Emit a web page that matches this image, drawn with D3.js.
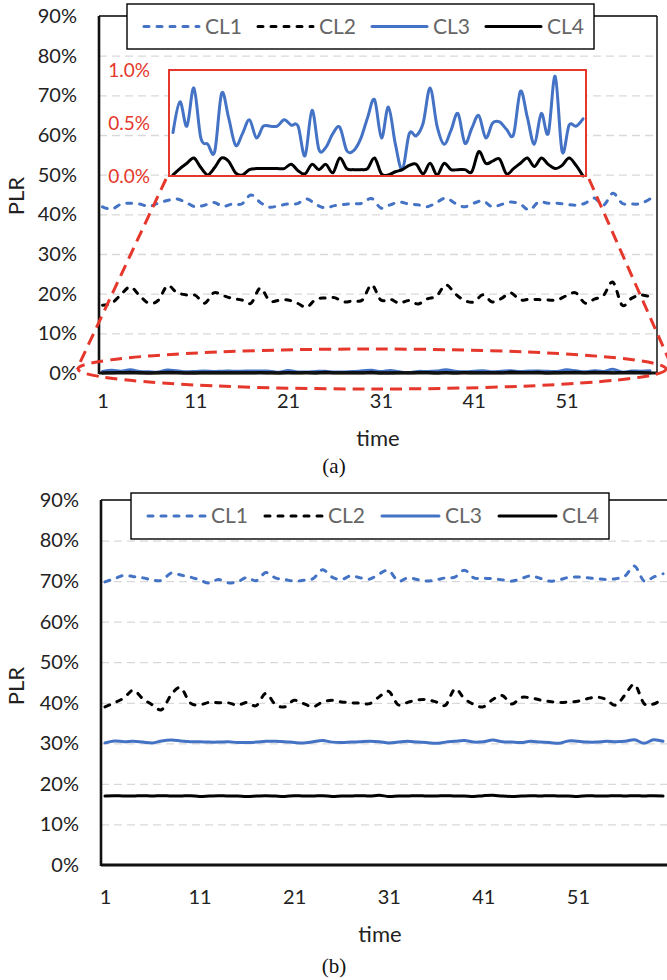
<!DOCTYPE html>
<html>
<head>
<meta charset="utf-8">
<script src="https://cdn.jsdelivr.net/npm/d3@7"></script>
<style>
  html, body { margin: 0; padding: 0; background: #fff; }
  svg { display: block; }
</style>
</head>
<body>
<svg id="fig" width="667" height="980"></svg>
<script>
// ---- data ----------------------------------------------------------
const timeSteps = d3.range(1, 61);
const xTickValues = [1, 11, 21, 31, 41, 51];
const yTickValues = [0, 10, 20, 30, 40, 50, 60, 70, 80, 90];
const insetTickValues = [0, 0.5, 1.0];
const seriesNames = ["CL1", "CL2", "CL3", "CL4"];

// panel (a), PLR in %
const a_CL1 = [41.9,41.3,42.6,42.8,42.6,42.0,42.8,43.5,43.9,43.0,
               41.9,42.3,43.0,42.0,42.6,42.6,44.9,43.0,41.8,42.2,
               42.6,42.7,43.9,42.5,41.6,42.2,42.5,42.7,42.8,44.0,
               41.6,42.4,43.1,42.6,42.4,41.9,43.0,44.1,42.8,41.9,
               42.8,43.4,41.9,42.5,43.1,42.6,41.1,43.1,42.8,42.8,
               42.5,42.3,42.8,44.1,42.3,45.3,42.8,42.6,42.7,43.9];
const a_CL2 = [17.1,17.6,19.8,21.7,19.5,17.6,18.3,22.0,20.3,19.7,
               19.6,17.6,20.2,19.5,18.8,18.4,17.6,21.4,18.2,18.3,
               18.4,17.6,16.6,18.6,18.9,19.0,17.9,18.2,18.4,22.2,
               18.4,18.6,17.6,18.3,17.4,18.7,19.4,22.2,20.0,18.3,
               17.9,19.7,17.9,18.8,20.2,18.4,18.6,18.5,18.4,18.4,
               19.5,20.2,17.6,18.6,19.6,22.9,17.1,18.8,19.7,19.2];
const a_CL3 = [0.41,0.70,0.47,0.83,0.36,0.30,0.23,0.78,0.55,0.29,
               0.40,0.53,0.36,0.47,0.47,0.47,0.53,0.48,0.47,0.19,
               0.62,0.25,0.27,0.40,0.46,0.24,0.24,0.35,0.55,0.72,
               0.36,0.65,0.30,0.06,0.40,0.38,0.50,0.83,0.47,0.30,
               0.43,0.59,0.31,0.45,0.57,0.36,0.50,0.51,0.44,0.39,
               0.80,0.55,0.30,0.59,0.40,0.94,0.23,0.48,0.47,0.54];
const a_CL4 = [0.01,0.07,0.12,0.17,0.08,0.01,0.08,0.17,0.14,0.03,
               0.01,0.06,0.07,0.07,0.07,0.07,0.07,0.11,0.05,0.02,
               0.11,0.06,0.11,0.03,0.17,0.07,0.06,0.06,0.07,0.17,
               0.02,0.01,0.04,0.06,0.10,0.11,0.02,0.12,0.01,0.12,
               0.06,0.06,0.06,0.04,0.23,0.12,0.14,0.16,0.02,0.07,
               0.12,0.17,0.09,0.17,0.11,0.07,0.10,0.17,0.10,0.00];

// panel (b), PLR in %
const b_CL1 = [69.8,70.6,71.4,71.1,70.8,70.3,70.2,72.0,71.5,71.0,
               70.3,69.5,70.4,69.6,69.8,70.9,70.1,72.1,70.8,70.4,
               70.0,70.2,70.6,72.8,71.0,70.4,71.3,70.8,70.5,71.8,
               72.6,70.0,70.8,70.4,70.0,70.3,70.8,71.0,72.7,70.8,
               70.7,70.6,70.3,70.0,70.6,71.3,70.7,70.0,70.3,70.9,
               71.0,70.8,70.6,70.4,70.6,71.3,73.7,70.0,71.0,71.8];
const b_CL2 = [39.0,40.0,41.2,43.1,41.0,39.5,38.3,42.0,43.7,40.0,
               39.5,40.1,40.0,40.0,39.4,40.1,39.3,42.3,39.6,39.0,
               40.6,39.8,39.0,40.2,40.6,40.2,40.0,39.9,39.8,41.5,
               42.8,39.5,40.1,40.7,40.8,40.2,39.4,43.4,41.0,39.6,
               39.0,40.8,41.8,39.7,41.3,41.2,40.7,40.3,40.1,40.2,
               40.4,41.0,41.4,40.8,39.4,42.0,44.5,39.8,39.7,41.0];
const b_CL3 = [30.1,30.6,30.4,30.5,30.3,30.1,30.6,30.8,30.6,30.4,
               30.4,30.3,30.3,30.4,30.2,30.2,30.3,30.5,30.5,30.4,
               30.2,30.1,30.4,30.7,30.3,30.2,30.3,30.4,30.5,30.4,
               30.1,30.3,30.5,30.3,30.2,30.0,30.3,30.5,30.7,30.3,
               30.4,30.8,30.4,30.3,30.2,30.5,30.3,30.2,30.0,30.6,
               30.5,30.3,30.3,30.5,30.4,30.5,30.9,30.0,30.9,30.5];
const b_CL4 = [17.0,17.1,17.0,17.0,17.1,17.0,17.1,17.0,17.0,17.1,
               16.9,17.0,17.1,17.0,17.0,16.9,17.0,17.1,17.0,16.9,
               17.1,17.0,17.0,17.1,16.9,17.0,17.0,17.1,17.0,17.2,
               16.9,17.0,17.0,17.1,17.0,17.0,17.1,17.0,17.0,16.9,
               17.1,17.2,17.0,16.9,17.0,17.1,17.0,17.1,17.0,17.0,
               16.9,17.1,17.0,17.0,17.1,17.0,17.1,17.0,17.1,17.0];

// ---- styling ---------------------------------------------------------
const FONT = "Lato, 'Open Sans', 'DejaVu Sans', sans-serif";
const BLUE = "#4472C4";
const RED = "#E5372B";
const seriesStyle = [
  { color: BLUE,   dash: "5,8" },
  { color: "#000", dash: "5,8" },
  { color: BLUE,   dash: null },
  { color: "#000", dash: null }
];

const svg = d3.select("#fig");

function styleLine(sel, s) {
  sel.attr("fill", "none")
     .attr("stroke", s.color)
     .attr("stroke-width", 3)
     .attr("stroke-linecap", "round")
     .attr("stroke-linejoin", "round")
     .attr("stroke-dasharray", s.dash);
}

function drawPanel(p) {
  const g = svg.append("g");
  const x = d3.scaleLinear().domain([1, 60]).range([p.x0, p.x1]);
  const y = d3.scaleLinear().domain([0, 90]).range([p.bottom, p.top]);

  // horizontal gridlines
  g.append("g")
    .attr("transform", `translate(${p.left},0)`)
    .call(d3.axisLeft(y).tickValues(yTickValues.slice(1, -1))
      .tickSize(-(p.right - p.left)).tickFormat(""))
    .call(a => a.select(".domain").remove())
    .call(a => a.selectAll(".tick line")
      .attr("stroke", "#d9d9d9").attr("stroke-width", 1.3)
      .attr("stroke-dasharray", "8,5"));

  // y tick labels
  g.append("g")
    .attr("transform", `translate(${p.yLabelX},0)`)
    .call(d3.axisLeft(y).tickValues(yTickValues).tickSize(0).tickPadding(0)
      .tickFormat(d => d + "%"))
    .attr("font-family", FONT).attr("font-size", 20)
    .call(a => a.select(".domain").remove())
    .call(a => a.selectAll("text").attr("fill", "#222"));

  // x tick labels
  g.append("g")
    .attr("transform", `translate(0,${p.xLabelY})`)
    .call(d3.axisBottom(x).tickValues(xTickValues).tickSize(0).tickPadding(0))
    .attr("font-family", FONT).attr("font-size", 20)
    .call(a => a.select(".domain").remove())
    .call(a => a.selectAll("text").attr("fill", "#222"));

  // series
  const line = d3.line().x((d, i) => x(timeSteps[i])).y(d => y(d))
    .curve(d3.curveCardinal);
  p.series.forEach((vals, k) => {
    g.append("path").datum(vals).attr("d", line)
      .call(styleLine, seriesStyle[k]);
  });

  // frame: thin top / right border, heavier axis lines
  g.append("line").attr("x1", p.left).attr("x2", p.right)
    .attr("y1", p.top).attr("y2", p.top)
    .attr("stroke", "#000").attr("stroke-width", 1.4);
  g.append("line").attr("x1", p.right).attr("x2", p.right)
    .attr("y1", p.top).attr("y2", p.bottom)
    .attr("stroke", "#000").attr("stroke-width", 1.4);
  g.append("line").attr("x1", p.left).attr("x2", p.left)
    .attr("y1", p.top).attr("y2", p.bottom + 1)
    .attr("stroke", "#111").attr("stroke-width", 2.6);
  g.append("line").attr("x1", p.left).attr("x2", p.right)
    .attr("y1", p.bottom).attr("y2", p.bottom)
    .attr("stroke", "#111").attr("stroke-width", 3);

  // axis titles
  g.append("text")
    .attr("transform", `translate(${p.yTitleX},${p.yTitleY}) rotate(-90)`)
    .attr("text-anchor", "middle").attr("font-family", FONT)
    .attr("font-size", 22).attr("fill", "#222").text("PLR");
  g.append("text")
    .attr("x", p.xTitleX).attr("y", p.xTitleY)
    .attr("text-anchor", "middle").attr("font-family", FONT)
    .attr("font-size", 22).attr("fill", "#222").text("time");
  g.append("text")
    .attr("x", p.capX).attr("y", p.capY)
    .attr("text-anchor", "middle")
    .attr("font-family", "'Liberation Serif', 'Times New Roman', serif")
    .attr("font-size", 21).attr("fill", "#111").text(p.caption);

  return { g, x, y };
}

function drawLegend(L) {
  const g = svg.append("g");
  g.append("rect").attr("x", L.x).attr("y", L.y)
    .attr("width", L.w).attr("height", L.h)
    .attr("fill", "#fff").attr("stroke", "#000").attr("stroke-width", 1.4);
  seriesNames.forEach((name, k) => {
    const x0 = L.itemX + k * L.step;
    g.append("line")
      .attr("x1", x0).attr("x2", x0 + L.lineLen)
      .attr("y1", L.y + L.h / 2).attr("y2", L.y + L.h / 2)
      .call(styleLine, seriesStyle[k]);
    g.append("text")
      .attr("x", x0 + L.lineLen + 6).attr("y", L.y + L.h / 2)
      .attr("dy", "0.35em").attr("font-family", FONT)
      .attr("font-size", 21).attr("fill", "#666").text(name);
  });
}

// ---- panel (a) ------------------------------------------------------
const pa = drawPanel({
  left: 99, right: 657, top: 16, bottom: 373,
  x0: 102.5, x1: 650,
  yLabelX: 77, xLabelY: 394,
  yTitleX: 24, yTitleY: 196,
  xTitleX: 378, xTitleY: 446,
  capX: 334, capY: 473, caption: "(a)",
  series: [a_CL1, a_CL2, a_CL3, a_CL4]
});

// zoomed view of CL3 / CL4 near 0 %
const inset = { left: 169, right: 586, top: 70, bottom: 176 };
const xi = d3.scaleLinear().domain([1, 60]).range([173, 583]);
const yi = d3.scaleLinear().domain([0, 1.0]).range([inset.bottom, inset.top]);
const gi = svg.append("g");
gi.append("rect").attr("x", inset.left).attr("y", inset.top)
  .attr("width", inset.right - inset.left).attr("height", inset.bottom - inset.top)
  .attr("fill", "#fff");
const lineInset = d3.line().x((d, i) => xi(timeSteps[i])).y(d => yi(d))
  .curve(d3.curveCardinal);
[a_CL3, a_CL4].forEach((vals, k) => {
  gi.append("path").datum(vals).attr("d", lineInset)
    .call(styleLine, seriesStyle[k + 2]);
});
gi.append("rect").attr("x", inset.left).attr("y", inset.top)
  .attr("width", inset.right - inset.left).attr("height", inset.bottom - inset.top)
  .attr("fill", "none").attr("stroke", RED).attr("stroke-width", 2);
gi.append("g")
  .attr("transform", "translate(150,0)")
  .call(d3.axisLeft(yi).tickValues(insetTickValues).tickSize(0).tickPadding(0)
    .tickFormat(d => d.toFixed(1) + "%"))
  .attr("font-family", FONT).attr("font-size", 19)
  .call(a => a.select(".domain").remove())
  .call(a => a.selectAll("text").attr("fill", RED));

// callout: ellipse round the near-zero lines, joined to the zoomed box
const gc = svg.append("g").attr("fill", "none").attr("stroke", RED)
  .attr("stroke-width", 3).attr("stroke-dasharray", "12,7");
gc.append("ellipse").attr("cx", 372).attr("cy", 369).attr("rx", 294).attr("ry", 20);
gc.append("line").attr("x1", 166).attr("y1", 179).attr("x2", 77).attr("y2", 369);
gc.append("line").attr("x1", 589).attr("y1", 179).attr("x2", 673).attr("y2", 369);

drawLegend({ x: 127, y: 4, w: 467, h: 45, itemX: 144, step: 114, lineLen: 55 });

// ---- panel (b) ------------------------------------------------------
drawPanel({
  left: 101, right: 668, top: 500, bottom: 865,
  x0: 105, x1: 663,
  yLabelX: 79, xLabelY: 890,
  yTitleX: 24, yTitleY: 686,
  xTitleX: 380, xTitleY: 942,
  capX: 334, capY: 973, caption: "(b)",
  series: [b_CL1, b_CL2, b_CL3, b_CL4]
});

drawLegend({ x: 131, y: 493, w: 478, h: 46, itemX: 148, step: 117, lineLen: 57 });
</script>
</body>
</html>
